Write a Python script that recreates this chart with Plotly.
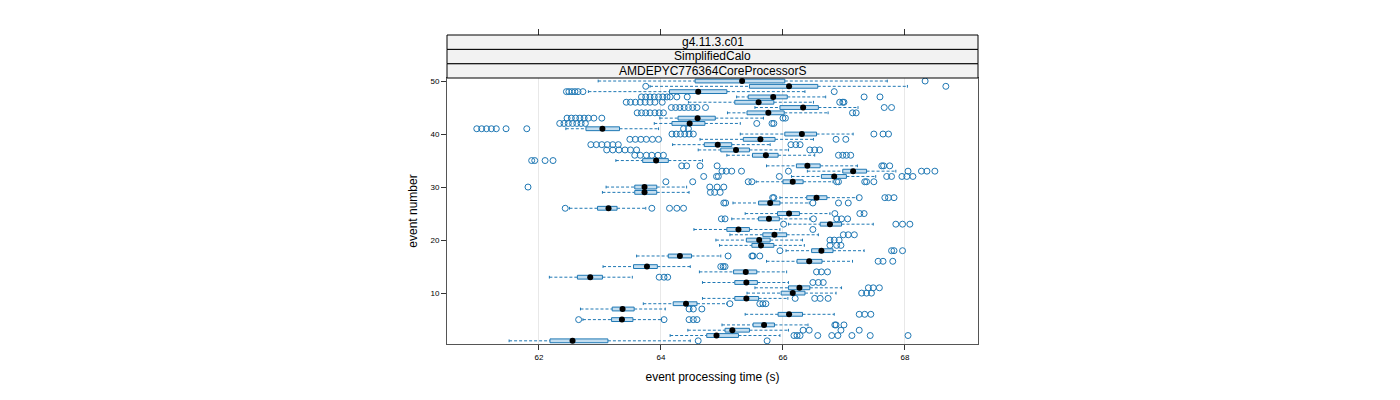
import plotly.graph_objects as go

events = list(range(1, 51))
whisker_lo = [61.51, 64.15, 64.44, 65.00, 62.72, 65.38, 62.68, 63.71, 64.68, 65.41,
              65.54, 64.68, 62.17, 64.63, 63.05, 65.73, 63.60, 66.05, 64.96, 64.90,
              65.13, 64.54, 66.09, 65.16, 65.38, 62.50, 65.18, 65.95, 63.04, 63.10,
              65.56, 66.14, 66.40, 65.73, 63.26, 65.08, 64.61, 64.19, 64.64, 65.30,
              62.44, 63.89, 63.98, 65.09, 65.54, 64.45, 65.24, 62.81, 63.82, 62.97]
q1 = [62.18, 64.75, 65.05, 65.51, 63.19, 65.92, 63.20, 64.20, 65.21, 65.97,
      66.09, 65.21, 62.63, 65.19, 63.55, 66.23, 64.12, 66.47, 65.49, 65.40,
      65.67, 65.08, 66.61, 65.60, 65.91, 62.96, 65.60, 66.39, 63.57, 63.57,
      66.00, 66.63, 66.98, 66.22, 63.70, 65.50, 64.98, 64.71, 65.35, 66.03,
      62.77, 64.18, 64.28, 65.41, 65.95, 65.21, 65.43, 64.14, 65.45, 64.56]
median = [62.55, 64.91, 65.17, 65.69, 63.36, 66.10, 63.37, 64.41, 65.40, 66.16,
          66.27, 65.40, 62.84, 65.39, 63.77, 66.43, 64.31, 66.63, 65.64, 65.61,
          65.86, 65.27, 66.77, 65.77, 66.10, 63.14, 65.79, 66.55, 63.73, 63.73,
          66.16, 66.84, 67.15, 66.40, 63.92, 65.72, 65.23, 64.93, 65.63, 66.31,
          63.04, 64.47, 64.60, 65.76, 66.33, 65.60, 65.84, 64.61, 66.10, 65.33]
q3 = [63.13, 65.27, 65.45, 65.86, 63.54, 66.32, 63.56, 64.59, 65.60, 66.36,
      66.44, 65.58, 63.04, 65.57, 63.94, 66.64, 64.50, 66.82, 65.85, 65.79,
      66.06, 65.45, 66.96, 65.94, 66.27, 63.28, 65.95, 66.72, 63.93, 63.93,
      66.33, 67.04, 67.37, 66.61, 64.12, 65.92, 65.45, 65.16, 65.87, 66.55,
      63.32, 64.72, 64.89, 66.02, 66.58, 65.85, 66.07, 65.08, 66.57, 66.03]
whisker_hi = [64.48, 65.95, 66.09, 66.41, 64.01, 66.84, 64.07, 65.08, 66.08, 66.87,
              66.96, 66.09, 63.53, 66.06, 64.48, 67.14, 64.98, 67.33, 66.35, 66.32,
              66.58, 65.95, 67.48, 66.44, 66.77, 63.75, 66.43, 67.21, 64.46, 64.42,
              66.82, 67.52, 67.85, 67.22, 64.68, 66.52, 66.09, 65.79, 66.50, 67.15,
              63.96, 65.30, 65.68, 66.74, 67.23, 66.50, 66.70, 66.36, 68.04, 67.71]
outliers = [
    [64.61, 65.74],
    [66.18, 66.23, 66.28, 66.57, 66.80, 66.90, 67.13, 67.43, 68.05],
    [66.33, 66.43, 66.95, 67.25],
    [66.85, 66.87, 67.00],
    [62.65, 64.05, 64.46, 64.53, 64.59],
    [67.25, 67.34, 67.44],
    [64.46, 64.53, 64.67],
    [65.13, 65.62, 65.67, 65.72],
    [66.20, 66.52, 66.61, 66.74],
    [67.29, 67.37, 67.45],
    [67.40, 67.48, 67.58],
    [66.49, 66.58, 66.66],
    [63.97, 64.05, 64.11],
    [66.55, 66.63, 66.73],
    [64.98, 65.02, 65.05],
    [67.56, 67.64, 67.80],
    [65.10, 65.49, 65.51, 65.62],
    [65.95, 67.78, 67.82, 67.96],
    [66.77, 66.88, 66.95],
    [66.77, 66.84, 66.92],
    [66.99, 67.07, 67.17],
    [66.49],
    [66.01, 67.85, 67.96, 68.08],
    [64.99, 65.05, 66.50, 66.88, 66.96, 67.06],
    [66.85, 67.26, 67.33],
    [62.43, 63.85, 64.14, 64.26, 64.37],
    [65.03, 65.06, 66.49, 66.91, 67.07],
    [65.83, 65.85, 67.25, 67.67, 67.73, 67.82],
    [64.81, 64.88, 64.97],
    [61.82, 64.80, 64.92, 65.03],
    [64.08, 64.52, 65.43, 65.49, 66.88, 66.91, 67.34, 67.37, 67.49],
    [64.70, 64.91, 64.94, 65.94, 67.70, 67.78, 67.95, 68.03, 68.13],
    [65.00, 65.07, 65.16, 65.32, 66.09, 68.05, 68.27, 68.36, 68.49],
    [64.34, 64.42, 64.64, 64.92, 67.62, 67.65, 67.75],
    [61.88, 61.93, 62.10, 62.23],
    [63.57, 63.66, 63.76, 63.85, 63.95, 64.04, 66.91, 66.98, 67.04, 67.11],
    [63.11, 63.21, 63.31, 63.41, 63.50, 63.60, 66.44, 66.52, 66.60],
    [62.85, 62.94, 63.03, 63.12, 63.21, 63.30, 66.13, 66.21, 66.28],
    [63.49, 63.58, 63.67, 63.76, 63.86, 63.96, 66.87, 67.03],
    [64.18, 64.25, 64.32, 64.39, 64.46, 64.53, 67.49, 67.64, 67.73],
    [60.98, 61.06, 61.14, 61.22, 61.30, 61.46, 61.80, 64.37, 64.45],
    [62.34, 62.41, 62.48, 62.55, 62.62, 62.69, 62.76, 65.57, 65.82, 65.85],
    [62.46, 62.53, 62.60, 62.67, 62.74, 62.81, 62.90, 63.03, 66.00, 66.04],
    [63.61, 63.68, 63.75, 63.82, 63.90, 63.97, 64.04, 67.14, 67.20],
    [64.17, 64.24, 64.31, 64.38, 64.45, 64.52, 64.59, 64.73, 67.66, 67.78],
    [63.43, 63.50, 63.58, 63.66, 63.74, 63.82, 63.90, 64.02, 66.93, 66.98, 67.00],
    [63.68, 63.75, 63.82, 63.89, 63.96, 64.03, 64.10, 64.15, 64.26, 64.43, 67.33, 67.59],
    [62.45, 62.49, 62.54, 62.59, 62.64, 62.72, 66.84],
    [63.75, 68.67],
    [68.33],
]
strip_labels = ["AMDEPYC776364CoreProcessorS", "SimplifiedCalo", "g4.11.3.c01"]
x_ticks = [62, 64, 66, 68]
y_ticks = [10, 20, 30, 40, 50]

BLUE = "#1f78b4"
FILL = "#c4def0"
BH = 0.36   # half box height (data units)
CH = 0.26   # half cap height

bx, by, wx, wy, cx, cy, ox, oy = [], [], [], [], [], [], [], []
for e, lo, a, b, hi, outs in zip(events, whisker_lo, q1, q3, whisker_hi, outliers):
    bx += [a, b, b, a, a, None]
    by += [e - BH, e - BH, e + BH, e + BH, e - BH, None]
    wx += [lo, a, None, b, hi, None]
    wy += [e, e, None, e, e, None]
    cx += [lo, lo, None, hi, hi, None]
    cy += [e - CH, e + CH, None, e - CH, e + CH, None]
    ox += outs
    oy += [e] * len(outs)

fig = go.Figure()
fig.add_trace(go.Scatter(x=wx, y=wy, mode="lines", line=dict(color=BLUE, width=1, dash="3px,2px"),
                         hoverinfo="skip"))
fig.add_trace(go.Scatter(x=cx, y=cy, mode="lines", line=dict(color=BLUE, width=1), hoverinfo="skip"))
fig.add_trace(go.Scatter(x=bx, y=by, mode="lines", fill="toself", fillcolor=FILL,
                         line=dict(color=BLUE, width=1), hoverinfo="skip"))
fig.add_trace(go.Scatter(x=ox, y=oy, mode="markers",
                         marker=dict(symbol="circle-open", size=6, color=BLUE, line=dict(width=1))))
fig.add_trace(go.Scatter(x=median, y=events, mode="markers",
                         marker=dict(symbol="circle", size=6, color="black")))
# dummy trace for the top tick axis
fig.add_trace(go.Scatter(x=[x_ticks[0]], y=[y_ticks[0]], xaxis="x2", yaxis="y", mode="markers",
                         marker=dict(opacity=0), hoverinfo="skip"))

XR = [60.492, 69.197]
YR = [0.4, 50.57]
PANEL_TOP = 266 / 309
font = "Liberation Sans, Arial, sans-serif"

fig.update_layout(
    width=1400, height=400,
    margin=dict(l=447, r=422, t=35, b=56),
    paper_bgcolor="white", plot_bgcolor="white",
    showlegend=False,
    font=dict(family=font, color="black"),
    xaxis=dict(range=XR, tickvals=x_ticks, ticks="outside", ticklen=5, tickcolor="#333",
               showline=True, linecolor="#555", linewidth=1, mirror=True,
               showgrid=True, gridcolor="#e8e8e8", zeroline=False,
               tickfont=dict(size=8, family=font),
               title=dict(text="event processing time (s)", font=dict(size=12, family=font), standoff=12)),
    yaxis=dict(domain=[0, PANEL_TOP], range=YR, tickvals=y_ticks, ticks="outside", ticklen=5,
               tickcolor="#333", showline=True, linecolor="#555", linewidth=1, mirror=True,
               showgrid=False, zeroline=False, tickfont=dict(size=8, family=font),
               title=dict(text="event number", font=dict(size=12, family=font), standoff=10)),
    xaxis2=dict(range=XR, overlaying="x", anchor="free", position=1, side="top",
                tickvals=x_ticks, ticks="outside", ticklen=6, tickcolor="#333",
                showticklabels=False, showgrid=False, showline=False, zeroline=False),
)

n = len(strip_labels)
step = (1 - PANEL_TOP) / n
for i, lab in enumerate(strip_labels):
    y0 = PANEL_TOP + i * step
    y1 = y0 + step
    fig.add_shape(type="rect", xref="paper", yref="paper", x0=0, x1=1, y0=y0, y1=y1,
                  fillcolor="#f2f2f2", line=dict(color="black", width=1), layer="above")
    fig.add_annotation(xref="paper", yref="paper", x=0.5, y=(y0 + y1) / 2, text=lab,
                       showarrow=False, font=dict(size=12, family=font, color="black"),
                       xanchor="center", yanchor="middle")

fig.write_html("out.html")
